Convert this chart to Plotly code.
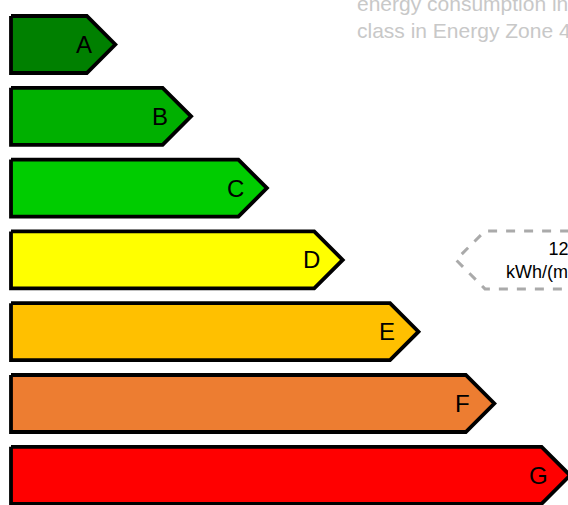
import plotly.graph_objects as go

# ---- data ----
classes = ["A", "B", "C", "D", "E", "F", "G"]
class_lengths = [1, 2, 3, 4, 5, 6, 7]          # relative arrow length per class
class_colors = ["#008000", "#00b000", "#00cc00", "#ffff00", "#ffc000", "#ed7d31", "#ff0000"]
marker_class = "D"
marker_text = "125<br>kWh/(m²·year)"
title_lines = ["energy consumption in this", "class in Energy Zone 4"]

# ---- geometry (axis units) ----
PX_X = 75.8      # pixels per x unit
PX_Y = 71.8      # pixels per row
X0_PX = 11.0
Y0_PX = 44.5
W, H = 568, 505
half_h = 28.5 / PX_Y
tip_w = 28.5 / PX_X

x_range = [-X0_PX / PX_X, (W - X0_PX) / PX_X]
y_range = [(H - Y0_PX) / PX_Y, -Y0_PX / PX_Y]

fig = go.Figure()

for i, (c, L, col) in enumerate(zip(classes, class_lengths, class_colors)):
    xs = [0, L, L + tip_w, L, 0, 0]
    ys = [i - half_h, i - half_h, i, i + half_h, i + half_h, i - half_h]
    fig.add_trace(go.Scatter(
        x=xs, y=ys, mode="lines", fill="toself", fillcolor=col,
        line=dict(color="black", width=3.8), hoverinfo="skip", showlegend=False))
    fig.add_annotation(x=L - 3 / PX_X, y=i, text=c, showarrow=False,
                       xanchor="center", yanchor="middle",
                       font=dict(family="Arial, Liberation Sans", size=24, color="black"))

# marker (dashed hexagon pointing at class row)
mi = classes.index(marker_class)
mh = 29 / PX_Y
m_tip = (456 - X0_PX) / PX_X
m_corner = m_tip + 29 / PX_X
m_right = 9.5
fig.add_trace(go.Scatter(
    x=[m_right, m_corner, m_tip, m_corner, m_right],
    y=[mi - mh, mi - mh, mi, mi + mh, mi + mh],
    mode="lines", line=dict(color="#aaaaaa", width=3, dash="dash"),
    hoverinfo="skip", showlegend=False))
fig.add_annotation(x=(563 - X0_PX) / PX_X, y=mi + 1 / PX_Y, text=marker_text,
                   showarrow=False, xanchor="center", yanchor="middle", align="center",
                   font=dict(family="Arial, Liberation Sans", size=18, color="black"))

# title text (top right)
fig.add_annotation(xref="paper", yref="paper", x=355 / W, y=1 - 3 / H, text=title_lines[0],
                   showarrow=False, xanchor="left", yanchor="middle",
                   font=dict(family="Arial, Liberation Sans", size=21, color="#c8c8c8"))
fig.add_annotation(xref="paper", yref="paper", x=355 / W, y=1 - 30 / H, text=title_lines[1],
                   showarrow=False, xanchor="left", yanchor="middle",
                   font=dict(family="Arial, Liberation Sans", size=21, color="#c8c8c8"))

fig.update_xaxes(range=x_range, visible=False, fixedrange=True)
fig.update_yaxes(range=y_range, visible=False, fixedrange=True)
fig.update_layout(width=W, height=H, margin=dict(l=0, r=0, t=0, b=0),
                  paper_bgcolor="white", plot_bgcolor="white")

fig.write_html("out.html", config={"displayModeBar": False},
               post_script="document.body.style.margin='0';")
